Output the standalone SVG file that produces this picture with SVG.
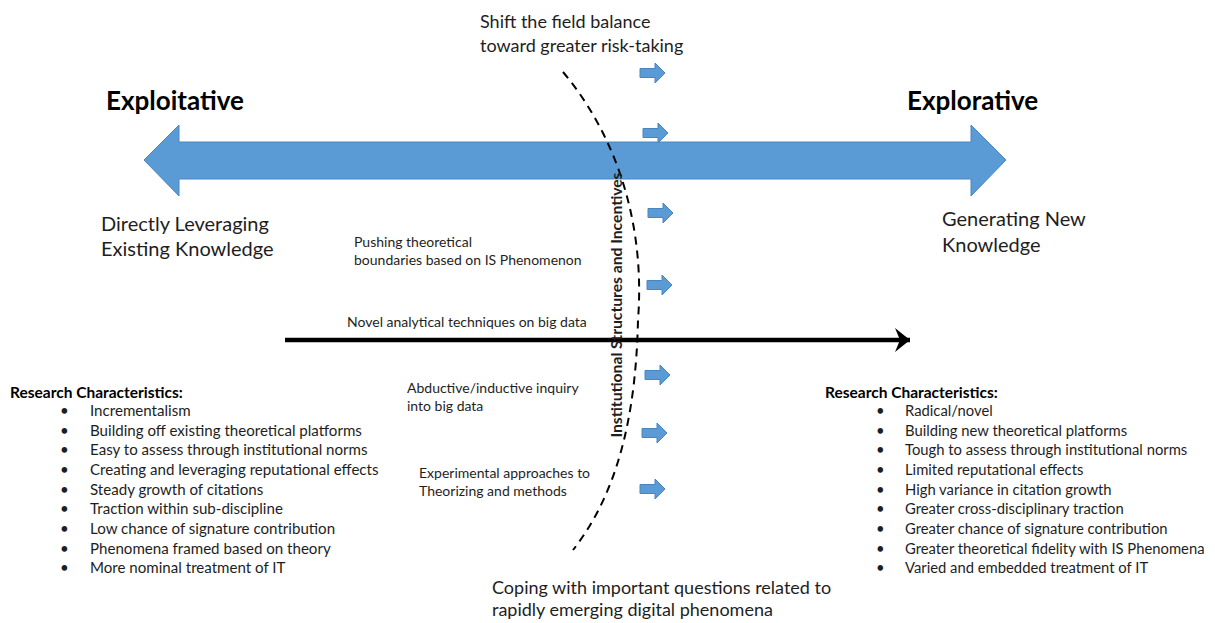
<svg xmlns="http://www.w3.org/2000/svg" xmlns:xlink="http://www.w3.org/1999/xlink" width="1215" height="623" viewBox="0 0 1215 623">
<style>
text{font-family:Lato,"Liberation Sans",sans-serif;fill:#1e1e1e}
.h{font-size:26px;font-weight:bold;fill:#000}
.m{font-size:18px}
.d{font-size:20px}
.s{font-size:14px}
.l{font-size:15.1px}
.r{font-size:14.8px}
.rh{font-size:15.5px;font-weight:bold;fill:#000}
.blue{fill:#5B9BD5;stroke:#4A86BE;stroke-width:1}
</style>
<defs>
<path id="sa" d="M0,-4.5 H15 V-10 L25,0 L15,10 V4.5 H0 Z"/>
<marker id="ah" viewBox="0 0 15 24" refX="15" refY="12" markerWidth="15" markerHeight="24" markerUnits="userSpaceOnUse" orient="auto">
<path d="M0,0 L15,12 L0,24 L5,12 Z" fill="#000"/>
</marker>
</defs>
<g id="main-arrow">
<path class="blue" d="M144,160 L179,125 V142 H971 V125 L1006,160 L971,196 V179 H179 V196 Z"/>
</g>
<g id="shift-arrows">
<use href="#sa" class="blue" x="640" y="73"/>
<use href="#sa" class="blue" x="643" y="133"/>
<use href="#sa" class="blue" x="648" y="213"/>
<use href="#sa" class="blue" x="647" y="285"/>
<use href="#sa" class="blue" x="645" y="375"/>
<use href="#sa" class="blue" x="642" y="433"/>
<use href="#sa" class="blue" x="640" y="489"/>
</g>
<g id="connectors">
<line x1="285" y1="340" x2="910" y2="340" stroke="#000" stroke-width="4.5" marker-end="url(#ah)"/>
<path d="M563,72 C620,140 645,230 638,320 C636,410 620,490 573,550" fill="none" stroke="#000" stroke-width="2" stroke-dasharray="8,6"/>
</g>
<g id="institutional">
<text font-size="15" font-weight="bold" fill="#000" transform="translate(622,305) rotate(-90)" text-anchor="middle" textLength="265" lengthAdjust="spacingAndGlyphs">Institutional Structures and Incentives</text>
</g>
<g id="shift-label">
<text class="m" x="480" y="28">Shift the field balance</text>
<text class="m" x="480" y="52">toward greater risk-taking</text>
</g>
<g id="exploitative">
<text class="h" x="106" y="110">Exploitative</text>
<text class="d" x="101" y="231">Directly Leveraging</text>
<text class="d" x="101" y="256">Existing Knowledge</text>
</g>
<g id="explorative">
<text class="h" x="907" y="110">Explorative</text>
<text class="d" x="942" y="226">Generating New</text>
<text class="d" x="942" y="252">Knowledge</text>
</g>
<g id="pushing">
<text class="s" x="354" y="247">Pushing theoretical</text>
<text class="s" x="354" y="265">boundaries based on IS Phenomenon</text>
</g>
<g id="novel">
<text class="s" x="347" y="327">Novel analytical techniques on big data</text>
</g>
<g id="abductive">
<text class="s" x="407" y="393">Abductive/inductive inquiry</text>
<text class="s" x="407" y="411">into big data</text>
</g>
<g id="experimental">
<text class="s" x="419" y="478">Experimental approaches to</text>
<text class="s" x="419" y="496">Theorizing and methods</text>
</g>
<g id="coping">
<text class="m" x="492" y="594">Coping with important questions related to</text>
<text class="m" x="492" y="616">rapidly emerging digital phenomena</text>
</g>
<g id="left-characteristics">
<text class="rh" x="10" y="398">Research Characteristics:</text>
<g class="l">
<text x="60" y="416">•</text><text x="90" y="416">Incrementalism</text>
<text x="60" y="436">•</text><text x="90" y="436">Building off existing theoretical platforms</text>
<text x="60" y="455">•</text><text x="90" y="455">Easy to assess through institutional norms</text>
<text x="60" y="475">•</text><text x="90" y="475">Creating and leveraging reputational effects</text>
<text x="60" y="495">•</text><text x="90" y="495">Steady growth of citations</text>
<text x="60" y="514">•</text><text x="90" y="514">Traction within sub-discipline</text>
<text x="60" y="534">•</text><text x="90" y="534">Low chance of signature contribution</text>
<text x="60" y="554">•</text><text x="90" y="554">Phenomena framed based on theory</text>
<text x="60" y="573">•</text><text x="90" y="573">More nominal treatment of IT</text>
</g>
</g>
<g id="right-characteristics">
<text class="rh" x="825" y="398">Research Characteristics:</text>
<g class="r">
<text x="876" y="416">•</text><text x="905" y="416">Radical/novel</text>
<text x="876" y="436">•</text><text x="905" y="436">Building new theoretical platforms</text>
<text x="876" y="455">•</text><text x="905" y="455">Tough to assess through institutional norms</text>
<text x="876" y="475">•</text><text x="905" y="475">Limited reputational effects</text>
<text x="876" y="495">•</text><text x="905" y="495">High variance in citation growth</text>
<text x="876" y="514">•</text><text x="905" y="514">Greater cross-disciplinary traction</text>
<text x="876" y="534">•</text><text x="905" y="534">Greater chance of signature contribution</text>
<text x="876" y="554">•</text><text x="905" y="554">Greater theoretical fidelity with IS Phenomena</text>
<text x="876" y="573">•</text><text x="905" y="573">Varied and embedded treatment of IT</text>
</g>
</g>
</svg>
